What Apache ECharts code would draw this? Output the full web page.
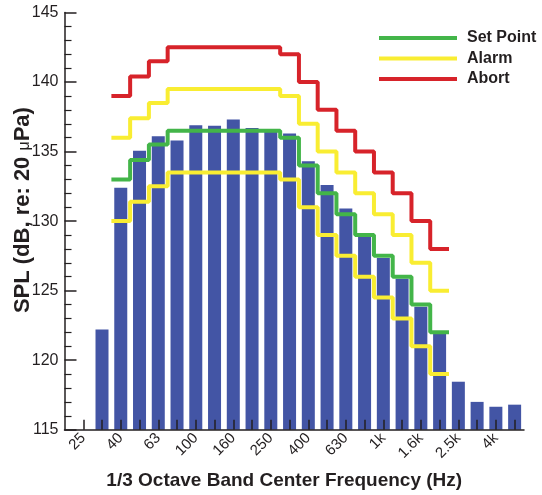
<!DOCTYPE html>
<html>
<head>
<meta charset="utf-8">
<script src="https://cdn.jsdelivr.net/npm/echarts@6/dist/echarts.min.js"></script>
<style>html,body{margin:0;padding:0;background:#fff;}#c{width:542px;height:495px;}</style>
</head>
<body>
<div id="c"></div>
<script>
// 1/3 octave band centre frequencies (tick labels)
const bands = ['25','31.5','40','50','63','80','100','125','160','200','250','315','400','500','630','800','1k','1.25k','1.6k','2k','2.5k','3.15k','4k','5k'];
// measured SPL per band (dB)
const splValues = [null,122.2,132.4,135.05,136.1,135.8,136.9,136.85,137.3,136.7,136.4,136.3,134.3,132.6,130.9,128.85,127.35,125.85,123.85,121.9,118.45,117.0,116.65,116.8];
// limit lines cover bands 40 Hz .. 2k Hz
const limitBands = ['40','50','63','80','100','125','160','200','250','315','400','500','630','800','1k','1.25k','1.6k','2k'];
const setPoint   = [133,134.4,135.5,136.5,136.5,136.5,136.5,136.5,136.5,136,134,132,130.5,129,127.5,126,124,122];
const alarmHigh  = [136,137.4,138.5,139.5,139.5,139.5,139.5,139.5,139.5,139,137,135,133.5,132,130.5,129,127,125];
const alarmLow   = [130,131.4,132.5,133.5,133.5,133.5,133.5,133.5,133.5,133,131,129,127.5,126,124.5,123,121,119];
const abortLevel = [139,140.4,141.5,142.5,142.5,142.5,142.5,142.5,142.5,142,140,138,136.5,135,133.5,132,130,128];

const FONT = 'Liberation Sans, Arial, Helvetica, sans-serif';
const INK = '#231f20';

function stepData(levels){
  const out = [];
  limitBands.forEach((b,k)=>{
    const i = bands.indexOf(b);
    out.push([i-0.5, levels[k]]);
    out.push([i+0.5, levels[k]]);
  });
  return out;
}
const barData = splValues.map((v,i)=> v==null ? null : [i, v]);
const tickIdx = bands.map((b,i)=>i);
const labelIdx = tickIdx.filter(i=>i%2===0);

const chart = echarts.init(document.getElementById('c'), null, {renderer:'canvas'});
const lineCommon = {type:'line', symbol:'none', silent:true, animation:false};
chart.setOption({
  animation:false,
  textStyle:{fontFamily:FONT},
  grid:{left:64.5, top:12.5, right:18, bottom:65.3, containLabel:false, outerBoundsMode:'none'},
  legend:{
    orient:'vertical', left:379, top:30, padding:0, itemWidth:78, itemHeight:4, itemGap:4.5,
    icon:'rect', selectedMode:false,
    data:['Set Point','Alarm','Abort'],
    textStyle:{fontFamily:FONT, fontSize:16, fontWeight:'bold', color:INK, padding:[0,0,0,5]}
  },
  xAxis:{
    type:'value', min:-1, max:23.5, z:10,
    axisLine:{show:true, onZero:false, lineStyle:{color:INK, width:1.5}},
    axisTick:{show:true, inside:true, length:10, customValues:tickIdx, lineStyle:{color:INK, width:1.5}},
    splitLine:{show:false},
    axisLabel:{customValues:labelIdx, rotate:45, fontSize:15, color:INK, margin:6, fontFamily:FONT,
      formatter:v=>bands[Math.round(v)]||''},
    name:'1/3 Octave Band Center Frequency (Hz)', nameLocation:'middle', nameGap:42, nameMoveOverlap:false,
    nameTextStyle:{fontFamily:FONT, fontSize:19, fontWeight:'bold', color:INK, padding:[0,20,0,0]}
  },
  yAxis:{
    type:'value', min:115, max:145, interval:5, z:10,
    axisLine:{show:true, onZero:false, lineStyle:{color:INK, width:1.5}},
    axisTick:{show:true, inside:true, length:12, lineStyle:{color:INK, width:1.5}},
    minorTick:{show:true, splitNumber:5, length:7, lineStyle:{color:INK, width:1.2}},
    splitLine:{show:false},
    axisLabel:{fontSize:16, color:INK, margin:6, fontFamily:FONT},
    name:'SPL (dB, re: 20 {mu|μ}Pa)', nameLocation:'middle', nameGap:31, nameRotate:90, nameMoveOverlap:false,
    nameTextStyle:{fontFamily:FONT, fontSize:22, fontWeight:'bold', color:INK, padding:[0,0,0,22],
      rich:{mu:{fontFamily:FONT, fontSize:16, fontWeight:'normal', color:INK, padding:[5,0,0,0]}}}
  },
  series:[
    {type:'bar', name:'SPL', data:barData, barWidth:13, itemStyle:{color:'#4355a5'}, silent:true, animation:false, z:2},
    Object.assign({name:'Alarm', data:stepData(alarmLow), lineStyle:{color:'#f9ed32', width:4}, itemStyle:{color:'#f9ed32'}, z:3}, lineCommon),
    Object.assign({name:'Alarm', data:stepData(alarmHigh), lineStyle:{color:'#f9ed32', width:4}, itemStyle:{color:'#f9ed32'}, z:3}, lineCommon),
    Object.assign({name:'Set Point', data:stepData(setPoint), lineStyle:{color:'#43b549', width:4}, itemStyle:{color:'#43b549'}, z:4}, lineCommon),
    Object.assign({name:'Abort', data:stepData(abortLevel), lineStyle:{color:'#d7232a', width:4}, itemStyle:{color:'#d7232a'}, z:4}, lineCommon)
  ]
});
</script>
</body>
</html>
